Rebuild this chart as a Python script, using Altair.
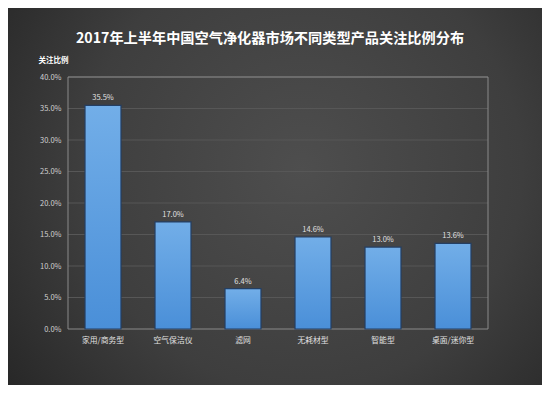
import altair as alt
import pandas as pd

categories = ["家用/商务型", "空气保洁仪", "滤网", "无耗材型", "智能型", "桌面/迷你型"]
values = [35.5, 17.0, 6.4, 14.6, 13.0, 13.6]
y_ticks = [0, 5, 10, 15, 20, 25, 30, 35, 40]
title_text = "2017年上半年中国空气净化器市场不同类型产品关注比例分布"

df = pd.DataFrame({"cat": categories, "val": values,
                   "label": [f"{v:.1f}%" for v in values]})
grid_df = pd.DataFrame({"t": y_ticks[1:]})

W, H = 420, 252
PL, PT, PR, PB = 60, 69, 54, 56
FONT = "Noto Sans CJK SC"

one = pd.DataFrame({"a": [0]})

bg = alt.Chart(one).mark_rect(
    fill={"gradient": "radial", "x1": 0.55, "y1": 0.45, "r1": 0.0,
          "x2": 0.55, "y2": 0.45, "r2": 0.75,
          "stops": [{"offset": 0, "color": "#4e4e4e"},
                    {"offset": 0.55, "color": "#3e3e3e"},
                    {"offset": 1, "color": "#222222"}]},
).encode(x=alt.value(-PL), x2=alt.value(W + PR), y=alt.value(-PT), y2=alt.value(H + PB))

yscale = alt.Scale(domain=[0, 40])
xscale = alt.Scale(paddingInner=0.486, paddingOuter=0.243)

y_axis = alt.Axis(values=y_ticks, labelExpr="format(datum.value, '.1f') + '%'",
                  grid=False, ticks=False, domain=False, labelOverlap=False,
                  labelColor="#d0d0d0", labelFontSize=7.5, labelFont=FONT,
                  labelPadding=7, zindex=1,
                  title="关注比例", titleAngle=0, titleX=-30, titleY=-17,
                  titleAlign="left", titleBaseline="middle",
                  titleColor="#ffffff", titleFontSize=7.5, titleFont=FONT,
                  titleFontWeight="bold")
x_axis = alt.Axis(title=None, labelAngle=0, labelColor="#e0e0e0",
                  labelFontSize=7.8, labelFont=FONT, ticks=False,
                  domain=False, labelPadding=7, zindex=1)

grid = alt.Chart(grid_df).mark_rule(color="#575757", strokeWidth=1).encode(
    y=alt.Y("t:Q", scale=yscale, axis=y_axis)
)

border = alt.Chart(one).mark_rect(
    fill=None, stroke="#8a8a8a", strokeWidth=1
).encode(x=alt.value(0), x2=alt.value(W), y=alt.value(0), y2=alt.value(H))

title = alt.Chart(one).mark_text(
    text=title_text, font=FONT, fontSize=14.2, fontWeight="bold", color="#ffffff",
    align="center", baseline="middle",
).encode(x=alt.value(W / 2 - 8), y=alt.value(-38))

bars = alt.Chart(df).mark_bar(
    fill={"gradient": "linear", "x1": 0, "y1": 0, "x2": 0, "y2": 1,
          "stops": [{"offset": 0, "color": "#72aee8"},
                    {"offset": 1, "color": "#4a8fd8"}]},
    stroke="#243f63", strokeWidth=1.2,
).encode(
    x=alt.X("cat:N", sort=categories, scale=xscale, axis=x_axis),
    y=alt.Y("val:Q", scale=yscale, axis=y_axis),
)

labels = alt.Chart(df).mark_text(
    dy=-7, color="#e0e0e0", fontSize=7.5, font=FONT
).encode(
    x=alt.X("cat:N", sort=categories, scale=xscale, axis=x_axis),
    y=alt.Y("val:Q", scale=yscale, axis=y_axis),
    text="label:N",
)

chart = alt.layer(bg, grid, border, bars, labels, title).properties(
    width=W, height=H,
    autosize=alt.AutoSizeParams(type="none"),
    padding={"left": PL, "top": PT, "right": PR, "bottom": PB},
).configure(background="#333333").configure_view(stroke=None)

chart.save("out.html", embed_options={"renderer": "svg", "actions": False})
